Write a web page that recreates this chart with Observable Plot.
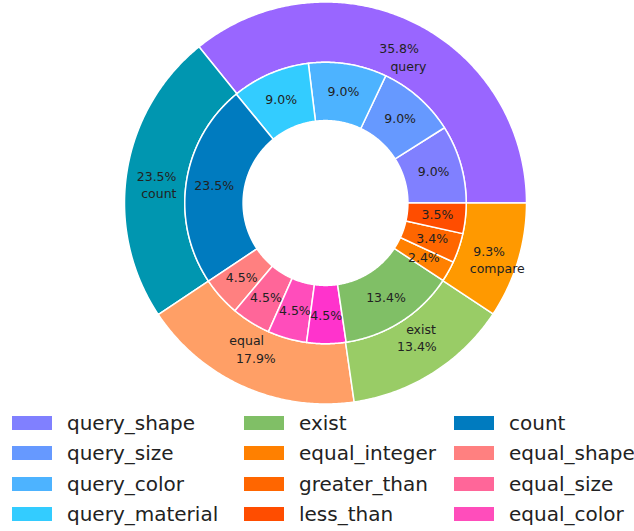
<!DOCTYPE html>
<html><head><meta charset="utf-8">
<script src="https://cdn.jsdelivr.net/npm/d3@7"></script>
<script src="https://cdn.jsdelivr.net/npm/@observablehq/plot@0.6"></script>
<style>
body{margin:0;background:#fff;font-family:"DejaVu Sans",sans-serif;}
#chart svg{display:block}
#legend{display:grid;grid-template-columns:232px 210px 180px;grid-template-rows:repeat(4,30.5px);grid-auto-flow:column;padding:1.5px 0 0 12px;height:123px;box-sizing:border-box;overflow:hidden}
.item{display:flex;align-items:center;font-size:20px;color:#222;white-space:nowrap}
.sw{width:40px;height:14px;margin-right:15px;flex:none}
</style></head><body><div id="chart"></div><div id="legend"></div>
<script>
const outerNames = ["query","count","equal","exist","compare"];
const outerValues = [35.8, 23.5, 17.9, 13.4, 9.3];
const outerColors = ["#9966ff","#0096b0","#ff9f66","#99cc66","#ff9900"];

const innerNames = ["query_shape","query_size","query_color","query_material","count","equal_shape","equal_size","equal_color","equal_material","exist","equal_integer","greater_than","less_than"];
const innerValues = [9.0, 9.0, 9.0, 9.0, 23.5, 4.5, 4.5, 4.5, 4.5, 13.4, 2.4, 3.4, 3.5];
const innerColors = ["#8080ff","#6699ff","#4db3ff","#33ccff","#007bbf","#ff8080","#ff6699","#ff4dbb","#ff33cc","#80bf66","#ff8000","#ff6600","#ff4d00"];

const legendNames = ["query_shape","query_size","query_color","query_material","exist","equal_integer","greater_than","less_than","count","equal_shape","equal_size","equal_color"];

// ring geometry (relative to outer radius = 1)
const rings = [
  {id:"outer", names: outerNames, values: outerValues, colors: outerColors, r0: 0.7, r1: 1.0, pctR: 0.85, labelR: 0.75, labels: true},
  {id:"inner", names: innerNames, values: innerValues, colors: innerColors, r0: 0.41, r1: 0.7, pctR: 0.56, labelR: 0, labels: false}
];

const polys = [], pcts = [], labels = [];
const colorDomain = [], colorRange = [];
for (const ring of rings) {
  const total = d3.sum(ring.values);
  let cum = 0;
  ring.values.forEach((v, i) => {
    const key = ring.id + ":" + ring.names[i];
    colorDomain.push(key); colorRange.push(ring.colors[i]);
    const a0 = 2 * Math.PI * cum / total;
    cum += v;
    const a1 = 2 * Math.PI * cum / total;
    const n = Math.max(2, Math.ceil((a1 - a0) / (Math.PI / 360)));
    for (let k = 0; k <= n; k++) {
      const a = a0 + (a1 - a0) * k / n;
      polys.push({key, x: ring.r1 * Math.cos(a), y: ring.r1 * Math.sin(a)});
    }
    for (let k = n; k >= 0; k--) {
      const a = a0 + (a1 - a0) * k / n;
      polys.push({key, x: ring.r0 * Math.cos(a), y: ring.r0 * Math.sin(a)});
    }
    const am = (a0 + a1) / 2;
    const c = Math.cos(am), s = Math.sin(am);
    pcts.push({x: ring.pctR * c, y: ring.pctR * s, text: (100 * v / total).toFixed(1) + "%"});
    if (ring.labels) {
      // near-horizontal labels are moved just below their percentage
      const nearH = Math.abs(s) < 0.35;
      labels.push({
        x: ring.labelR * c,
        y: nearH ? ring.pctR * s - 0.082 : ring.labelR * s,
        side: c > 0 ? "right" : "left",
        text: ring.names[i]
      });
    }
  });
}

const chart = Plot.plot({
  width: 634,
  height: 406,
  marginLeft: 124, marginRight: 108, marginTop: 1.5, marginBottom: 2.5,
  x: {domain: [-1, 1], axis: null},
  y: {domain: [-1, 1], axis: null},
  color: {domain: colorDomain, range: colorRange},
  style: {fontFamily: "DejaVu Sans, sans-serif", background: "white"},
  marks: [
    Plot.line(polys, {x: "x", y: "y", z: "key", fill: "key", stroke: "white", strokeWidth: 1.5, curve: "linear-closed", strokeLinejoin: "round"}),
    Plot.text(pcts, {x: "x", y: "y", text: "text", fontSize: 12.5, fill: "#222"}),
    Plot.text(labels.filter(d => d.side === "right"), {x: "x", y: "y", text: "text", fontSize: 12.5, fill: "#222", textAnchor: "start"}),
    Plot.text(labels.filter(d => d.side === "left"), {x: "x", y: "y", text: "text", fontSize: 12.5, fill: "#222", textAnchor: "end"})
  ]
});
document.getElementById("chart").appendChild(chart);

const colorOf = Object.fromEntries(innerNames.map((n, i) => [n, innerColors[i]]));
const legend = document.getElementById("legend");
for (const name of legendNames) {
  const item = document.createElement("div");
  item.className = "item";
  const sw = document.createElement("span");
  sw.className = "sw";
  sw.style.background = colorOf[name];
  const t = document.createElement("span");
  t.textContent = name;
  item.appendChild(sw); item.appendChild(t);
  legend.appendChild(item);
}
</script>
</body></html>
